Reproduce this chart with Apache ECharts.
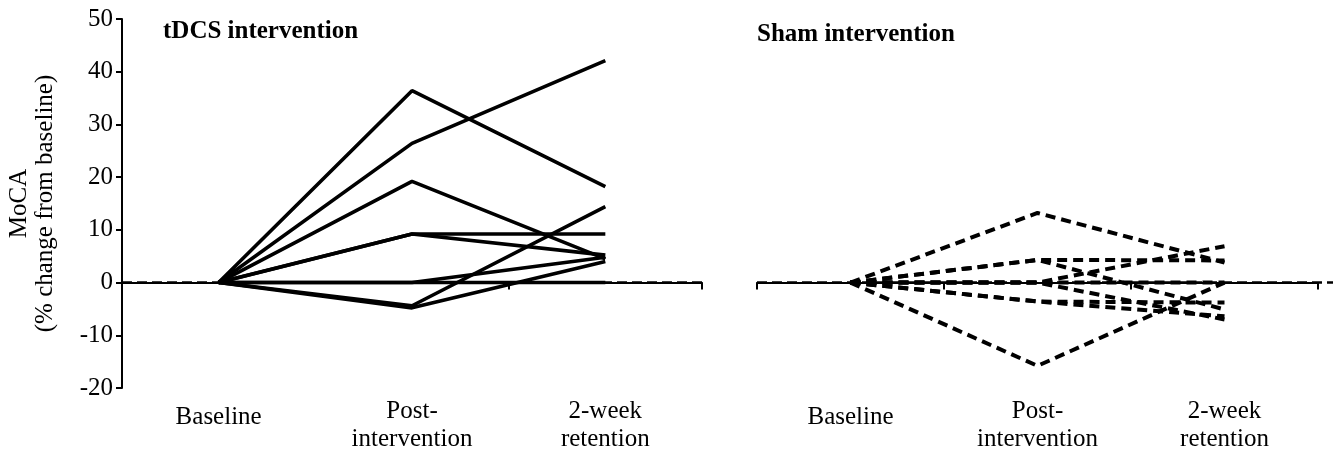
<!DOCTYPE html>
<html>
<head>
<meta charset="utf-8">
<script src="https://cdn.jsdelivr.net/npm/echarts@6/dist/echarts.min.js"></script>
<style>
html,body{margin:0;padding:0;background:#fff;}
#main{width:1342px;height:456px;}
</style>
</head>
<body>
<div id="main"></div>
<script>
// Categories and tick labels
const categories = ['Baseline', 'Post-\nintervention', '2-week\nretention'];
const yTicks = [-20, -10, 0, 10, 20, 30, 40, 50];

// tDCS intervention: % change in MoCA per participant
const tdcs1 = [0, 36.4, 18.2];
const tdcs2 = [0, 26.4, 42.1];
const tdcs3 = [0, 19.2, 4.5];
const tdcs4 = [0, 9.2, 9.2];
const tdcs5 = [0, 9.2, 5.2];
const tdcs6 = [0, 0, 0];
const tdcs7 = [0, 0, 4.8];
const tdcs8 = [0, -4.4, 14.4];
const tdcs9 = [0, -4.8, 4.0];

// Sham intervention: % change in MoCA per participant
const sham1 = [0, 13.2, 3.8];
const sham2 = [0, 4.3, 4.2];
const sham3 = [0, 0, 6.9];
const sham4 = [0, 4.3, -5.1];
const sham5 = [0, 0, 0];
const sham6 = [0, 0, -7.0];
const sham7 = [0, -3.6, -3.8];
const sham8 = [0, -3.6, -6.4];
const sham9 = [0, -15.8, 0];

// zero reference (no change from baseline), spanning each panel edge to edge
const zeroRef = [0, 0, 0];

const tdcsGroup = [tdcs1, tdcs2, tdcs3, tdcs4, tdcs5, tdcs6, tdcs7, tdcs8, tdcs9];
const shamGroup = [sham1, sham2, sham3, sham4, sham5, sham6, sham7, sham8, sham9];

const FONT = '"Liberation Serif", "DejaVu Serif", serif';
const yMin = yTicks[0], yMax = yTicks[yTicks.length - 1];

const chart = echarts.init(document.getElementById('main'), null, {renderer: 'canvas'});

const xLabel = {
  color: '#000', fontFamily: FONT, fontSize: 25, lineHeight: 28, margin: 9,
  formatter: function (v) { return v === 'Baseline' ? '{b|' + v + '}' : v; },
  rich: { b: { fontFamily: FONT, fontSize: 25, color: '#000', padding: [12, 0, 0, 0] } }
};

const series = [];
// zero reference lines (drawn beneath)
series.push({
  type: 'line', xAxisIndex: 3, yAxisIndex: 0, data: zeroRef, symbol: 'none', z: 1,
  lineStyle: { color: '#000', width: 2.5, type: [10, 5] }, animation: false, silent: true
});
series.push({
  type: 'line', xAxisIndex: 2, yAxisIndex: 2, data: zeroRef, symbol: 'none', z: 1,
  lineStyle: { color: '#000', width: 2.5, type: [10, 5] }, animation: false, silent: true
});
tdcsGroup.forEach(function (d) {
  series.push({
    type: 'line', xAxisIndex: 0, yAxisIndex: 0, data: d, symbol: 'none', z: 3,
    lineStyle: { color: '#000', width: 3.6 }, animation: false, silent: true
  });
});
shamGroup.forEach(function (d) {
  series.push({
    type: 'line', xAxisIndex: 1, yAxisIndex: 1, data: d, symbol: 'none', z: 3,
    lineStyle: { color: '#000', width: 4, type: [10, 6] }, animation: false, silent: true
  });
});

const titleStyle = { fontFamily: FONT, fontWeight: 'bold', fontSize: 25, color: '#000' };

chart.setOption({
  animation: false,
  backgroundColor: '#fff',
  title: [
    { text: 'tDCS intervention', left: 163, top: 19, padding: 0, textStyle: titleStyle },
    { text: 'Sham intervention', left: 757, top: 22, padding: 0, textStyle: titleStyle }
  ],
  grid: [
    { left: 122, right: 640, top: 19, bottom: 68 },
    { left: 757, right: 24, top: 19, bottom: 68 },
    { left: 757, right: 9, top: 19, bottom: 68 }
  ],
  xAxis: [
    {
      type: 'category', gridIndex: 0, data: categories, boundaryGap: true,
      axisLine: { lineStyle: { color: '#000', width: 2 } },
      axisTick: { show: true, length: 7, lineStyle: { color: '#000', width: 2 }, interval: function (i) { return i !== 1; } },
      axisLabel: xLabel, splitLine: { show: false }
    },
    {
      type: 'category', gridIndex: 1, data: categories, boundaryGap: true,
      axisLine: { lineStyle: { color: '#000', width: 2 } },
      axisTick: { show: true, length: 7, lineStyle: { color: '#000', width: 2 } },
      axisLabel: xLabel, splitLine: { show: false }
    },
    { type: 'category', gridIndex: 2, data: categories, boundaryGap: false, show: false },
    { type: 'category', gridIndex: 0, data: categories, boundaryGap: false, show: false }
  ],
  yAxis: [
    {
      type: 'value', gridIndex: 0, min: yMin, max: yMax, interval: 10,
      axisLine: { show: true, lineStyle: { color: '#000', width: 2 } },
      axisTick: { show: true, length: 6, lineStyle: { color: '#000', width: 2 } },
      axisLabel: { color: '#000', fontFamily: FONT, fontSize: 25, margin: 9 },
      splitLine: { show: false },
      name: 'MoCA\n(% change from baseline)', nameLocation: 'middle', nameRotate: 90, nameGap: 64,
      nameTextStyle: { color: '#000', fontFamily: FONT, fontSize: 25, lineHeight: 26 }
    },
    { type: 'value', gridIndex: 1, min: yMin, max: yMax, interval: 10, show: false, splitLine: { show: false } },
    { type: 'value', gridIndex: 2, min: yMin, max: yMax, interval: 10, show: false, splitLine: { show: false } }
  ],
  series: series
});
</script>
</body>
</html>
